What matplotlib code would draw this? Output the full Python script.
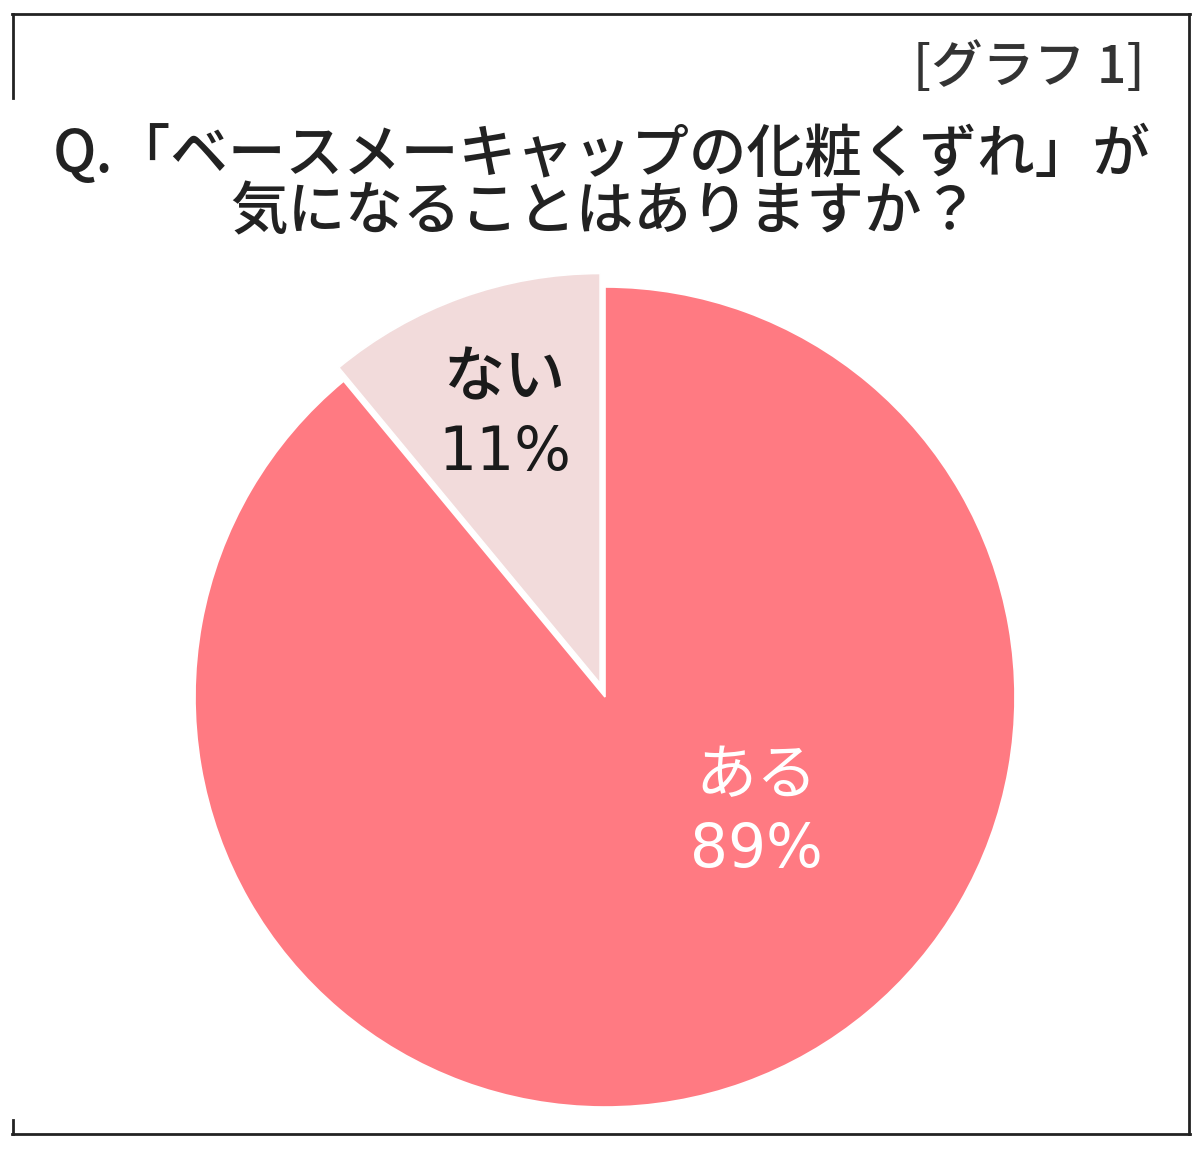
import matplotlib
matplotlib.use("Agg")
import matplotlib.pyplot as plt
from matplotlib.lines import Line2D

plt.rcParams['font.family'] = ['Noto Sans CJK JP', 'DejaVu Sans']

# ---- data ----
categories = ["ある", "ない"]
values = [89, 11]
pct_labels = ["89%", "11%"]
colors = ["#FF7A82", "#F2DBDB"]
label_colors = ["white", "#1a1a1a"]
label_weights = ["normal", "medium"]
title_lines = ["Q.「ベースメーキャップの化粧くずれ」が", "気になることはありますか？"]
tag = "[グラフ 1]"

W, H = 1200, 1149
fig = plt.figure(figsize=(W / 100, H / 100), dpi=100)
fig.patch.set_facecolor("white")

# overlay axes in pixel coordinates
bg = fig.add_axes([0, 0, 1, 1])
bg.set_xlim(0, W)
bg.set_ylim(H, 0)
bg.axis("off")

# frame
lc = "#222222"
lw = 2.0
bg.add_line(Line2D([12, 1190], [14, 14], color=lc, lw=lw))
bg.add_line(Line2D([1189, 1189], [14, 1134], color=lc, lw=lw))
bg.add_line(Line2D([12, 1190], [1134, 1134], color=lc, lw=lw))
bg.add_line(Line2D([13, 13], [14, 98], color=lc, lw=lw))
bg.add_line(Line2D([13, 13], [1120, 1134], color=lc, lw=lw))

bg.text(1145, 68, tag, ha="right", va="center", fontsize=37, color="#333333",
        fontweight="medium")
bg.text(602, 155, title_lines[0], ha="center", va="center", fontsize=41.5,
        color="#222222", fontweight="medium")
bg.text(605, 213, title_lines[1], ha="center", va="center", fontsize=41.5,
        color="#222222", fontweight="medium")

# pie axes
cx, cy, r = 605, 697, 410
ax = fig.add_axes([(cx - r) / W, (H - cy - r) / H, 2 * r / W, 2 * r / H])
wedges, _ = ax.pie(values, colors=colors, startangle=90, counterclock=False,
                   explode=[0, 0.035], radius=1.0,
                   wedgeprops=dict(edgecolor="white", linewidth=1.2))
ax.set_xlim(-1, 1)
ax.set_ylim(-1, 1)
ax.set_aspect("auto")
ax.axis("off")

# labels (pie data coords)
label_pos = [(0.37, -0.285), (-0.245, 0.685)]
for cat, pct, (x, y), c, w in zip(categories, pct_labels, label_pos,
                                  label_colors, label_weights):
    ax.text(x, y + 0.09, cat, ha="center", va="center", fontsize=44, color=c,
            fontweight=w)
    ax.text(x, y - 0.09, pct, ha="center", va="center", fontsize=43, color=c,
            family=["DejaVu Sans"])

fig.savefig("out.png", dpi=100, facecolor="white")
